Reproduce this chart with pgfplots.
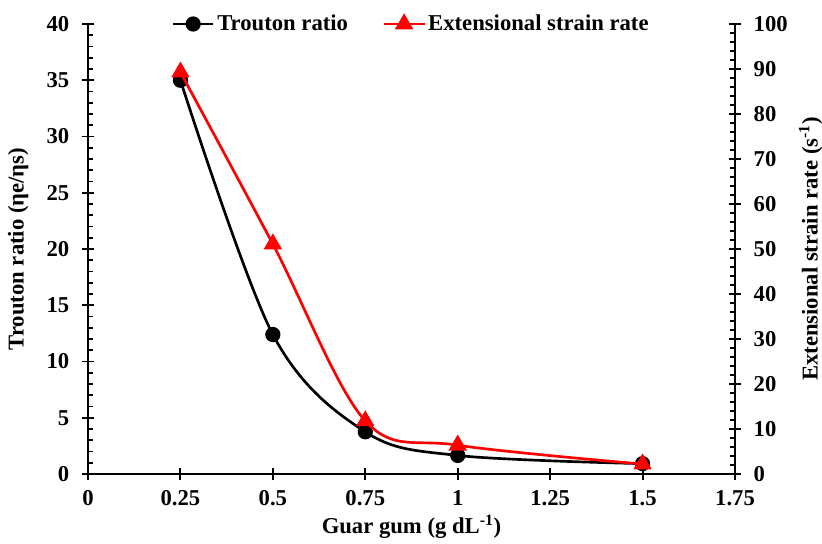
\documentclass[border=0pt]{standalone}
\usepackage{fontspec}
\setmainfont{Liberation Serif}
\usepackage{pgfplots}
\pgfplotsset{compat=1.18}

% Trouton ratio (left axis) and extensional strain rate (right axis)
\pgfplotstableread{
x     tr
0.25  35.0
0.50  12.4
0.75  3.75
1.00  1.65
1.50  0.92
}\trouton
\pgfplotstableread{
x     sr
0.25  89.3
0.50  51.1
0.75  11.8
1.00  6.4
1.50  2.2
}\strain

\newcommand{\chartfont}{\fontsize{17}{20}\selectfont\bfseries}

\pgfplotsset{
  common/.style={
    scale only axis, width=485.25pt, height=337.5pt,
    xmin=0, xmax=1.75,
    font=\chartfont,
    tick label style={font=\chartfont},
    label style={font=\chartfont},
    /pgf/number format/assume math mode=true,
    tick align=center,
    major tick length=9pt, minor tick length=4pt,
    every tick/.style={black, line width=1.4pt},
    axis line style={black, line width=1.7pt},
    clip=false,
  },
}

\begin{document}
\begin{tikzpicture}
\begin{axis}[common, name=ax,
    axis x line*=bottom, axis y line*=left,
    ymin=0, ymax=40, ytick={0,5,...,40}, minor y tick num=4,
    every minor y tick/.append style={xshift=2pt},
    xtick={0,0.25,0.5,0.75,1,1.25,1.5,1.75},
    xticklabels={0,0.25,0.5,0.75,1,1.25,1.5,1.75},
    xticklabel style={yshift=-4pt},
    yticklabel style={xshift=-6pt},
    xlabel={Guar gum (g dL\textsuperscript{-1})},
    ylabel={Trouton ratio (ηe/ηs)},
    x label style={at={(axis description cs:0.5,-0.117)}, anchor=center},
    y label style={at={(axis description cs:-0.108,0.5)}, anchor=center},
  ]
  \addplot[black, line width=2pt, smooth, tension=0.55,
    mark=*, mark size=4.7pt, mark options={solid, fill=black}]
    table[x=x, y=tr] {\trouton};
\end{axis}
\begin{axis}[common,
    axis x line=none, axis y line*=right,
    ymin=0, ymax=100, ytick={0,10,...,100}, minor y tick num=4,
    every minor y tick/.append style={xshift=-2pt},
    yticklabel style={xshift=6pt},
    ylabel={Extensional strain rate (s\textsuperscript{-1})},
    y label style={at={(axis description cs:1.117,0.5)}, anchor=center},
    legend columns=2,
    legend style={at={(0.5,1.0)}, anchor=center, draw=none, fill=none,
      font=\chartfont,
      /tikz/every even column/.append style={column sep=24pt}},
    legend image code/.code={%
      \draw[mark repeat=2, mark phase=2] plot coordinates {(0cm,0cm) (0.53cm,0cm) (1.06cm,0cm)};},
  ]
  \addlegendimage{black, line width=2pt, mark=*, mark size=4.7pt, mark options={solid, fill=black}}
  \addlegendentry{Trouton ratio}
  \addplot[red, line width=2pt, smooth, tension=0.55,
    mark=triangle*, mark size=6pt, mark options={solid, fill=red}]
    table[x=x, y=sr] {\strain};
  \addlegendentry{Extensional strain rate}
\end{axis}
\pgfresetboundingbox
\path[use as bounding box] ([shift={(-66pt,-51.75pt)}]ax.south west)
  rectangle ([shift={(65.25pt,18pt)}]ax.north east);
\end{tikzpicture}
\end{document}
